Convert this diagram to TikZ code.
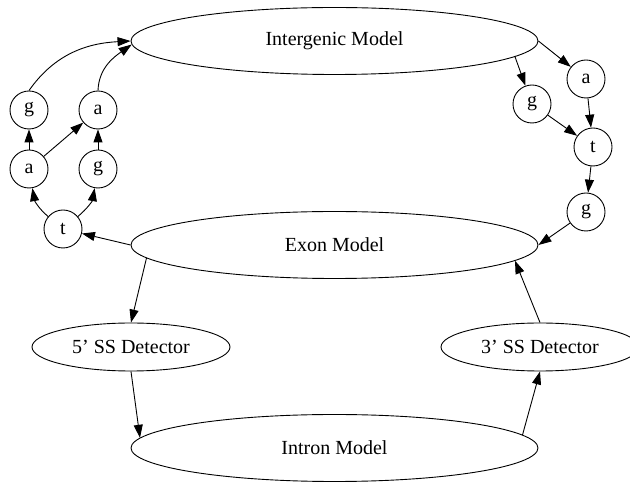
\documentclass[tikz,border=0pt]{standalone}
\usepackage{fontspec}
\setmainfont{Liberation Serif}
\usetikzlibrary{shapes.geometric,arrows.meta}
\begin{document}
\begin{tikzpicture}[x=1pt,y=1pt,
  every node/.style={font=\fontsize{20}{24}\selectfont},
  bigell/.style={draw,ellipse,line width=0.9pt,minimum width=407pt,minimum height=67pt,inner sep=0pt},
  smallell/.style={draw,ellipse,line width=0.9pt,minimum width=198pt,minimum height=48pt,inner sep=0pt},
  base/.style={draw,circle,line width=0.9pt,minimum size=38pt,inner sep=0pt},
  arr/.style={line width=0.9pt,-{Triangle[length=13pt,width=9pt]}}]
\useasboundingbox (0,0) rectangle (630,482);
\node[bigell] (I) at (334.5,441) {Intergenic Model};
\node[bigell] (E) at (334.5,237) {Exon Model};
\node[bigell] (N) at (334.5,34) {Intron Model};
\node[smallell] (F) at (131,135) {5’ SS Detector};
\node[smallell] (T) at (540,135) {3’ SS Detector};
% left bases
\node[base] (gL1) at (29,372) {g};
\node[base] (aL2) at (98,372) {a};
\node[base] (aL1) at (29,313) {a};
\node[base] (gL2) at (98,313) {g};
\node[base] (tL) at (63,253) {t};
% right bases
\node[base] (aR) at (586,403) {a};
\node[base] (gR1) at (532,378) {g};
\node[base] (tR) at (593,335) {t};
\node[base] (gR2) at (586,270) {g};
% right chain
\draw[arr] (I.east) -- (aR);
\draw[arr] (I.-5) -- (gR1);
\draw[arr] (aR) -- (tR);
\draw[arr] (gR1) -- (tR);
\draw[arr] (tR) -- (gR2);
\draw[arr] (gR2) -- (E.east);
% left chain
\draw[arr] (E.west) -- (tL);
\draw[arr] (tL) to[out=140,in=-80] (aL1);
\draw[arr] (tL) to[out=40,in=-100] (gL2);
\draw[arr] (aL1) -- (gL1);
\draw[arr] (aL1) -- (aL2);
\draw[arr] (gL2) -- (aL2);
\draw[arr] (gL1.north) to[out=55,in=183] (I.west);
\draw[arr] (aL2.north) to[out=88,in=215] (I.181);
% splice cycle
\draw[arr] (E.184) -- (F.north);
\draw[arr] (F.south) -- (N.177);
\draw[arr] (N.4) -- (T.south);
\draw[arr] (T.north) -- (E.-5);
\end{tikzpicture}
\end{document}
